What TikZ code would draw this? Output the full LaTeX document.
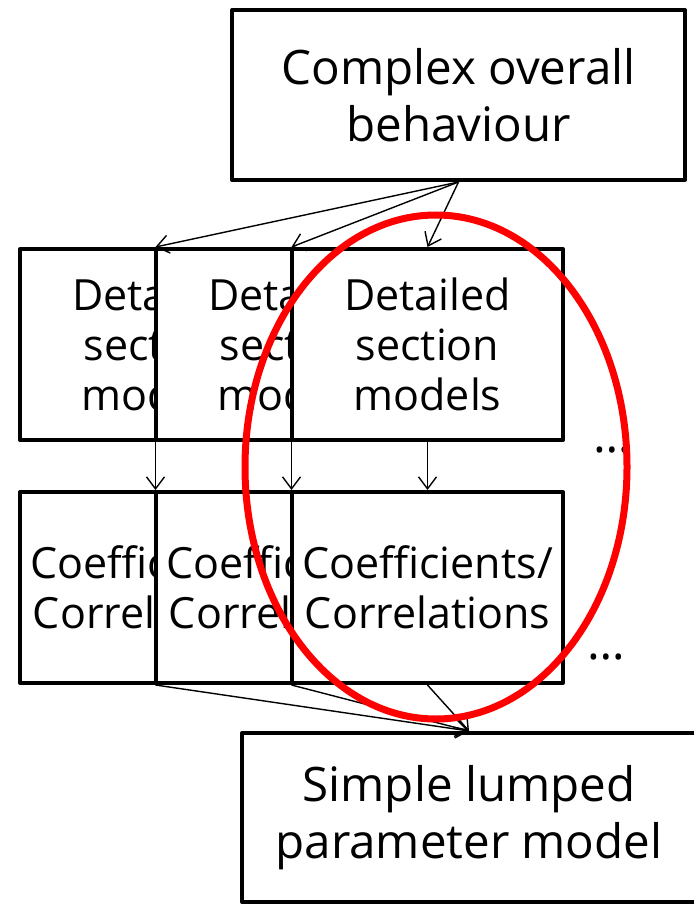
\documentclass[tikz,border=0pt]{standalone}
\usepackage{fontspec}
\setmainfont{Open Sans}
\usetikzlibrary{arrows.meta}
\begin{document}
\begin{tikzpicture}[x=1pt,y=-1pt,
 box/.style={draw,line width=4pt,fill=white,align=center,font=\fontsize{43}{50}\selectfont,inner sep=0pt,line join=round},
 bigbox/.style={box,font=\fontsize{47.5}{57}\selectfont},
 arr/.style={line width=1.4pt,-{Straight Barb[length=12pt,width=18pt]}},
 dots/.style={font=\fontsize{48}{50}\selectfont,inner sep=0pt}]
\useasboundingbox (0,0) rectangle (693,904);
\node[bigbox,minimum width=453,minimum height=170] (top) at (458.5,95) {Complex overall\\behaviour};
\node[box,minimum width=271,minimum height=191] (d1) at (155.5,344.5) {Detailed\\section\\models};
\node[box,minimum width=271,minimum height=191] (d2) at (291.5,344.5) {Detailed\\section\\models};
\node[box,minimum width=271,minimum height=191] (d3) at (427.5,344.5) {Detailed\\section\\models};
\node[box,minimum width=271,minimum height=191] (c1) at (155.5,587.5) {Coefficients/\\Correlations};
\node[box,minimum width=271,minimum height=191] (c2) at (291.5,587.5) {Coefficients/\\Correlations};
\node[box,minimum width=271,minimum height=191] (c3) at (427.5,587.5) {Coefficients/\\Correlations};
\node[bigbox,minimum width=454,minimum height=169] (bot) at (469,817.5) {Simple lumped\\parameter model};
\node[dots] (dd) at (612,450) {…};
\node[dots] (dc) at (606,657) {…};
\draw[arr] (top.south) -- (d1.north);
\draw[arr] (top.south) -- (d2.north);
\draw[arr] (top.south) -- (d3.north);
\draw[arr] (d1.south) -- (c1.north);
\draw[arr] (d2.south) -- (c2.north);
\draw[arr] (d3.south) -- (c3.north);
\draw[arr] (c1.south) -- (bot.north);
\draw[arr] (c2.south) -- (bot.north);
\draw[arr] (c3.south) -- (bot.north);
\draw[red,line width=7pt] (436,467) ellipse [x radius=191,y radius=252];
\end{tikzpicture}
\end{document}
